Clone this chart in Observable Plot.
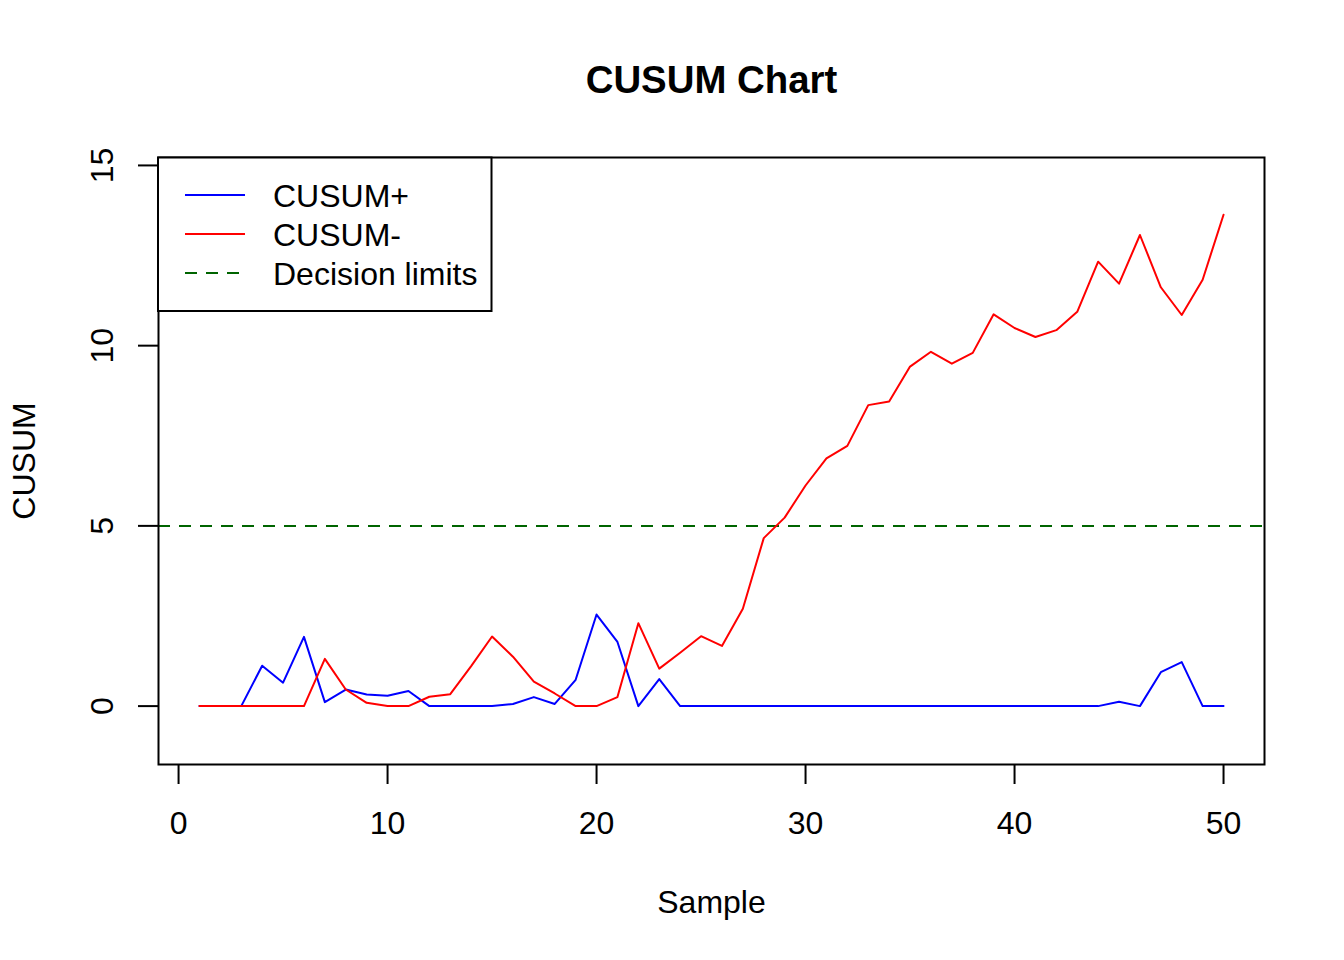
<!DOCTYPE html>
<html><head><meta charset="utf-8">
<script src="https://cdn.jsdelivr.net/npm/d3@7"></script>
<script src="https://cdn.jsdelivr.net/npm/@observablehq/plot@0.6"></script>
<style>body{margin:0;background:#fff}</style>
</head><body><div id="chart"></div>
<script>
const samples = [1,2,3,4,5,6,7,8,9,10,11,12,13,14,15,16,17,18,19,20,21,22,23,24,25,26,27,28,29,30,31,32,33,34,35,36,37,38,39,40,41,42,43,44,45,46,47,48,49,50];
const cusumPlus = [0,0,0,1.12,0.65,1.92,0.11,0.46,0.32,0.29,0.42,0,0,0,0,0.06,0.25,0.06,0.73,2.54,1.78,0,0.75,
  0,0,0,0,0,0,0,0,0,0,0,0,0,0,0,0,0,0,0,0,0,
  0.12,0,0.94,1.22,0,0];
const cusumMinus = [0,0,0,0,0,0,1.31,0.46,0.09,0,0,0.26,0.33,1.11,1.93,1.37,0.68,0.35,0,0,
  0.25,2.30,1.04,1.48,1.94,1.67,2.70,4.66,5.23,6.12,6.87,7.22,8.35,8.45,9.42,9.83,9.50,9.80,10.87,10.49,
  10.24,10.43,10.94,12.33,11.72,13.07,11.62,10.85,11.83,13.63];
const decisionLimit = 5;
const xTicks = [0,10,20,30,40,50];
const yTicks = [0,5,10,15];
const legendLabels = ["CUSUM+", "CUSUM-", "Decision limits"];
const legendColors = ["#0000FF", "#FF0000", "#006400"];
const legendDashed = [false, false, true];

const font = "'Liberation Sans', Arial, Helvetica, sans-serif";
const plusData = samples.map((s, i) => ({sample: s, value: cusumPlus[i]}));
const minusData = samples.map((s, i) => ({sample: s, value: cusumMinus[i]}));

const chart = Plot.plot({
  width: 1344, height: 960,
  marginLeft: 158, marginRight: 80, marginTop: 157, marginBottom: 196,
  x: {domain: [-0.96, 51.96]},
  y: {domain: [-1.62, 15.22]},
  style: {fontFamily: font, fontSize: "32px", background: "white", color: "black", overflow: "visible"},
  marks: [
    Plot.ruleY([decisionLimit], {stroke: "#006400", strokeWidth: 2, strokeDasharray: "12,9"}),
    Plot.line(plusData, {x: "sample", y: "value", stroke: "#0000FF", strokeWidth: 2}),
    Plot.line(minusData, {x: "sample", y: "value", stroke: "#FF0000", strokeWidth: 2}),
    Plot.frame({stroke: "black", strokeWidth: 2}),
    Plot.axisX({ticks: xTicks, tickSize: 20, tickPadding: 27, fontSize: 32, label: null, strokeWidth: 2}),
    Plot.axisY({ticks: yTicks, tickSize: 20, tickFormat: () => "", label: null, strokeWidth: 2}),
    Plot.text(yTicks, {y: d => d, text: d => String(d), frameAnchor: "left", dx: -46, rotate: -90, textAnchor: "middle", lineAnchor: "bottom", fontSize: 32}),
    Plot.text(["Sample"], {text: d => d, frameAnchor: "bottom", dy: 148, textAnchor: "middle", lineAnchor: "bottom", fontSize: 32}),
    Plot.text(["CUSUM"], {text: d => d, frameAnchor: "left", dx: -124, rotate: -90, textAnchor: "middle", lineAnchor: "bottom", fontSize: 32}),
    Plot.text(["CUSUM Chart"], {text: d => d, frameAnchor: "top", dy: -65, textAnchor: "middle", lineAnchor: "bottom", fontSize: 38.4, fontWeight: "bold"})
  ]
});

// legend (R-style box, top-left inside the plot)
const svg = d3.select(chart);
const lg = svg.append("g").attr("font-family", font).attr("font-size", 32).attr("text-anchor", "start");
lg.append("rect").attr("x", 158).attr("y", 157.5).attr("width", 333.5).attr("height", 153.5)
  .attr("fill", "white").attr("stroke", "black").attr("stroke-width", 2);
legendLabels.forEach((lab, i) => {
  const yy = 195 + i * 39;
  lg.append("line").attr("x1", 185).attr("x2", 245).attr("y1", yy).attr("y2", yy)
    .attr("stroke", legendColors[i]).attr("stroke-width", 2)
    .attr("stroke-dasharray", legendDashed[i] ? "12,9" : null);
  lg.append("text").attr("x", 273).attr("y", yy + 11.5).attr("fill", "black")
    .attr("text-anchor", "start").text(lab);
});

document.getElementById("chart").appendChild(chart);
</script>
</body></html>
